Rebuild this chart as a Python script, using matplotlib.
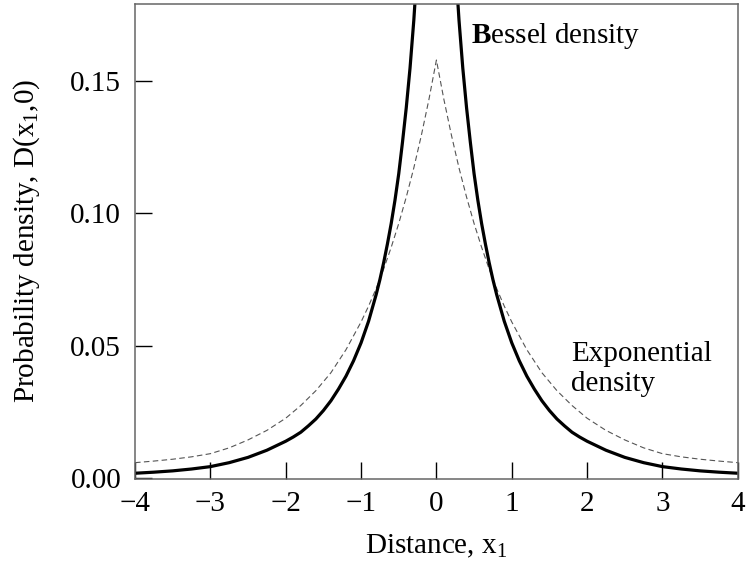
import numpy as np
import matplotlib
matplotlib.use("Agg")
from matplotlib import pyplot as plt

plt.rcParams['font.family'] = ['Liberation Serif', 'DejaVu Serif']
plt.rcParams['mathtext.fontset'] = 'custom'
plt.rcParams['mathtext.rm'] = 'Liberation Serif'
plt.rcParams['mathtext.it'] = 'Liberation Serif:italic'
plt.rcParams['mathtext.bf'] = 'Liberation Serif:bold'

# exponential density, peaks at x1 = 0
exp_x = [-4, -3.75, -3.5, -3.25, -3, -2.75, -2.5, -2.25, -2, -1.8, -1.6, -1.4, -1.2,
         -1, -0.9, -0.8, -0.7, -0.6, -0.5, -0.4, -0.3, -0.2, -0.1, 0,
         0.1, 0.2, 0.3, 0.4, 0.5, 0.6, 0.7, 0.8, 0.9, 1,
         1.2, 1.4, 1.6, 1.8, 2, 2.25, 2.5, 2.75, 3, 3.25, 3.5, 3.75, 4]
exp_y = [0.0058, 0.0064, 0.0071, 0.0080, 0.0092, 0.0114, 0.0144, 0.0180, 0.0226, 0.0274,
         0.0330, 0.0398, 0.0485,
         0.0590, 0.0650, 0.0716, 0.0790, 0.0872, 0.0962, 0.1062, 0.1172, 0.1295, 0.1430, 0.1580,
         0.1430, 0.1295, 0.1172, 0.1062, 0.0962, 0.0872, 0.0790, 0.0716, 0.0650, 0.0590,
         0.0485, 0.0398, 0.0330, 0.0274, 0.0226, 0.0180, 0.0144, 0.0114, 0.0092, 0.0080,
         0.0071, 0.0064, 0.0058]

# Bessel density, diverges at x1 = 0 (nan breaks the line there)
bes_x = [-4, -3.75, -3.5, -3.25, -3, -2.75, -2.5, -2.25, -2, -1.9, -1.8, -1.7, -1.6, -1.5,
         -1.4, -1.3, -1.2, -1.1, -1, -0.9, -0.8, -0.75, -0.7, -0.65, -0.6, -0.55, -0.5,
         -0.45, -0.4, -0.35, -0.3, -0.25, -0.2, 0,
         0.2, 0.25, 0.3, 0.35, 0.4, 0.45, 0.5, 0.55, 0.6, 0.65, 0.7, 0.75, 0.8, 0.9,
         1, 1.1, 1.2, 1.3, 1.4, 1.5, 1.6, 1.7, 1.8, 1.9, 2, 2.25, 2.5, 2.75, 3, 3.25,
         3.5, 3.75, 4]
bes_y = [0.0018, 0.0022, 0.0027, 0.0034, 0.0043, 0.0058, 0.0078, 0.0105, 0.0139, 0.0155,
         0.0173, 0.0197, 0.0223, 0.0255,
         0.0292, 0.0336, 0.0385, 0.0443, 0.0511, 0.0593, 0.0693, 0.0750, 0.0814, 0.0885,
         0.0962, 0.1050, 0.1150,
         0.1270, 0.1400, 0.1550, 0.1730, 0.1950, 0.2220, np.nan,
         0.2220, 0.1950, 0.1730, 0.1550, 0.1400, 0.1270, 0.1150, 0.1050, 0.0962, 0.0885,
         0.0814, 0.0750, 0.0693, 0.0593,
         0.0511, 0.0443, 0.0385, 0.0336, 0.0292, 0.0255, 0.0223, 0.0197, 0.0173, 0.0155,
         0.0139, 0.0105, 0.0078, 0.0058, 0.0043, 0.0034,
         0.0027, 0.0022, 0.0018]

x_ticks = [-4, -3, -2, -1, 0, 1, 2, 3, 4]
y_ticks = [0.00, 0.05, 0.10, 0.15]

fig = plt.figure(figsize=(7.46, 5.61), dpi=100)
ax = fig.add_axes([0.181, 0.147, 0.808, 0.846])

ax.plot(exp_x, exp_y, color='#555555', lw=0.8, ls=(0, (5, 3)))
ax.plot(bes_x, bes_y, color='black', lw=2.3, solid_joinstyle='round')

ax.set_xlim(-4, 4)
ax.set_ylim(-0.0002, 0.1792)
ax.set_xticks(x_ticks)
ax.set_yticks(y_ticks)
ax.set_yticklabels(['%.2f' % v for v in y_ticks])
ax.tick_params(direction='in', length=12, width=1, labelsize=21, color='black')
ax.tick_params(axis='x', pad=9)
ax.tick_params(axis='y', pad=10)
for s in ax.spines.values():
    s.set_color('#666666')
    s.set_linewidth(1.1)

ax.set_xlabel(r'Distance, x$_1$', fontsize=21, labelpad=11)
ax.set_ylabel(r'Probability density, D(x$_1$,0)', fontsize=21, labelpad=20)

ax.text(0.455, 0.1643, r'$\mathbf{B}$essel density', fontsize=21, va='baseline')
ax.text(1.79, 0.0442, 'Exponential', fontsize=21, va='baseline')
ax.text(1.79, 0.0329, 'density', fontsize=21, va='baseline')

fig.savefig('out.png', dpi=100)
